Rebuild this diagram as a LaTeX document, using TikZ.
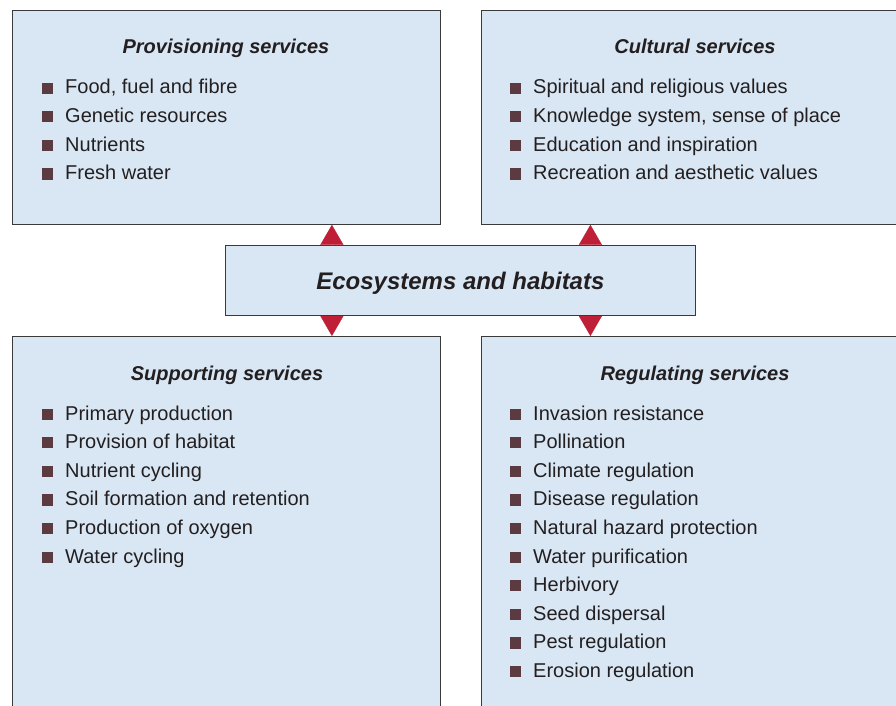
\documentclass[tikz,border=0pt]{standalone}
\usepackage{fontspec}
\setmainfont{Liberation Sans}
\usepackage{tikz}
\usetikzlibrary{arrows.meta,positioning}
\definecolor{boxfill}{HTML}{D9E7F4}
\definecolor{boxline}{HTML}{3A3A3A}
\definecolor{ink}{HTML}{231F20}
\definecolor{bulletc}{HTML}{5C3A42}
\definecolor{arrowred}{HTML}{BE1E36}

\begin{document}
\begin{tikzpicture}[x=1pt,y=-1pt,
  panel/.style={draw=boxline,fill=boxfill,line width=0.8pt,anchor=north west,
                minimum width=428pt,inner sep=0pt},
  heading/.style={font=\fontsize{20}{24}\selectfont\bfseries\itshape,
                  text=ink,anchor=base,inner sep=0pt},
  item/.style={font=\fontsize{20}{24}\selectfont,text=ink,anchor=base west,inner sep=0pt},
  bullet/.style={fill=bulletc,minimum size=11.2pt,inner sep=0pt,anchor=south east},
  link/.style={draw=arrowred,line width=0.3pt,
               -{Triangle[length=20pt,width=23pt,fill=arrowred]}}
]
  \useasboundingbox (0,0) rectangle (896,706);
  \clip (0,0) rectangle (896,706);

  % The four service panels (right and bottom ones run off the page)
  \node[panel,minimum height=214pt] (prov) at (12,10) {};
  \node[panel,minimum height=214pt] (cult) at (481,10) {};
  \node[panel,minimum height=400pt] (supp) at (12,336) {};
  \node[panel,minimum height=400pt] (regu) at (481,336) {};

  % Centre box
  \node[panel,minimum width=470pt,minimum height=70pt,text depth=0pt,
        font=\fontsize{24}{28}\selectfont\bfseries\itshape,text=ink] (eco) at (225,245)
        {Ecosystems and habitats};

  % Panel headings
  \node[heading] (prov-head) at (226,54)  {Provisioning services};
  \node[heading] (cult-head) at (695,54)  {Cultural services};
  \node[heading] (supp-head) at (227,380) {Supporting services};
  \node[heading] (regu-head) at (695,380) {Regulating services};

  % Bulleted lists
  \foreach \t [count=\i] in {{Food, fuel and fibre},Genetic resources,Nutrients,Fresh water}{
    \node[item] (prov-\i) at (65,{94+28.6*(\i-1)}) {\t};
    \node[bullet] at ([xshift=-12pt]prov-\i.base west) {};
  }
  \foreach \t [count=\i] in {Spiritual and religious values,{Knowledge system, sense of place},
      Education and inspiration,Recreation and aesthetic values}{
    \node[item] (cult-\i) at (533,{94+28.6*(\i-1)}) {\t};
    \node[bullet] at ([xshift=-12pt]cult-\i.base west) {};
  }
  \foreach \t [count=\i] in {Primary production,Provision of habitat,Nutrient cycling,
      Soil formation and retention,Production of oxygen,Water cycling}{
    \node[item] (supp-\i) at (65,{420+28.6*(\i-1)}) {\t};
    \node[bullet] at ([xshift=-12pt]supp-\i.base west) {};
  }
  \foreach \t [count=\i] in {Invasion resistance,Pollination,Climate regulation,
      Disease regulation,Natural hazard protection,Water purification,Herbivory,
      Seed dispersal,Pest regulation,Erosion regulation}{
    \node[item] (regu-\i) at (533,{420+28.6*(\i-1)}) {\t};
    \node[bullet] at ([xshift=-12pt]regu-\i.base west) {};
  }

  % Red triangles linking the centre box to the panels
  \coordinate (nl) at ([xshift=-128.5pt]eco.north);
  \coordinate (nr) at ([xshift=130pt]eco.north);
  \coordinate (sl) at ([xshift=-128.5pt]eco.south);
  \coordinate (sr) at ([xshift=130pt]eco.south);
  \draw[link] (nl) -- (nl |- prov.south);
  \draw[link] (nr) -- (nr |- cult.south);
  \draw[link] (sl) -- (sl |- supp.north);
  \draw[link] (sr) -- (sr |- regu.north);
\end{tikzpicture}
\end{document}
